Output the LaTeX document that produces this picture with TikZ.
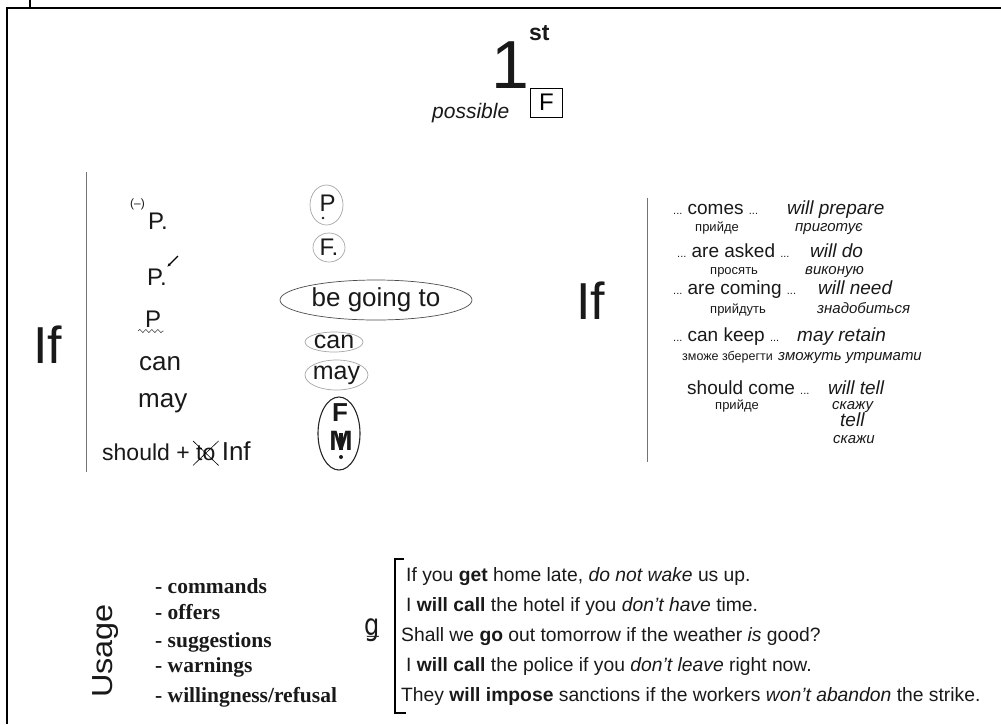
\documentclass[tikz,border=0pt]{standalone}
\usepackage{fontspec}
\usepackage{graphicx}
\setmainfont{Liberation Sans}
\newfontfamily\listfont{Liberation Serif}
\newfontfamily\djv{DejaVu Sans}
\usetikzlibrary{shapes.geometric,decorations.pathmorphing,arrows.meta}
\newcommand{\fsz}[1]{\fontsize{#1}{#1}\selectfont}
\newcommand{\smdots}{{\fontsize{11}{11}\selectfont...}}
\begin{document}
\begin{tikzpicture}[x=1pt,y=-1pt,
  t/.style={inner sep=0pt, anchor=base west, text=black!90},
  c/.style={inner sep=0pt, text=black!90},
  oval/.style={ellipse, draw=black!35, line width=0.7pt, inner sep=0pt},
  en/.style={t, font=\fsz{19}},
  ei/.style={t, font=\itshape\fsz{19}},
  ua/.style={t, font=\fsz{13}},
  ui/.style={t, font=\itshape\fsz{15}},
  lst/.style={t, font=\listfont\bfseries\fsz{21.5}},
  sen/.style={t, font=\fsz{19.3}},
  divider/.style={draw=black!55, line width=1pt},
]
\useasboundingbox (0,0) rectangle (1001,724);
% frame
\draw[line width=2pt] (7,724) -- (7,7.5) -- (1001,7.5);
\draw[line width=2.5pt] (30,0) -- (30,7);

% title
\node[t, font=\fsz{68}] (one) at (491,88) {1};
\node[t, font=\bfseries\fsz{23}] (st) at (529,40) {st};
\node[t, font=\itshape\fsz{21}] (possible) at (432,118) {possible};
\node[draw, line width=0.8pt, font=\fsz{24}, minimum width=32, minimum height=29, inner sep=0pt] (fbox) at (546.5,102.5) {F};

% left block
\draw[divider] (86,172) -- (86,472);
\node[t, font=\fsz{52}] (ifL) at (33,363) {If};
\node[t, font=\fsz{12}] (neg) at (130,207) {(–)};
\node[t, font=\fsz{24}] (p1) at (148,229) {P.};
\node[t, font=\fsz{24}] (p2) at (147,285) {P.};
\draw[line width=1.1pt, -{Latex[length=4pt,width=3pt]}] (178,256) -- (167,267);
\node[t, font=\fsz{24}] (p3) at (145,327) {P};
\draw[decorate, decoration={snake, segment length=6pt, amplitude=1.6pt}] (138,331) -- (164,331);
\node[t, font=\fsz{26}] (canL) at (139,370) {can};
\node[t, font=\fsz{26}] (mayL) at (138,407) {may};
\node[t, font=\fsz{23}] (should) at (102,460) {should +};
\node[t, font=\fsz{23}] (to) at ([xshift=6pt]should.base east) {to};
\draw[line width=0.6pt] ([xshift=-3pt,yshift=4pt]to.north west) -- ([xshift=3pt,yshift=-5pt]to.south east);
\draw[line width=0.6pt] ([xshift=-3pt,yshift=-5pt]to.south west) -- ([xshift=3pt,yshift=4pt]to.north east);
\node[t, font=\fsz{26}] (inf) at ([xshift=6pt]to.base east) {Inf};

% middle ovals
\node[oval, minimum width=33, minimum height=40] (ovP) at (326.5,205) {};
\node[c, font=\fsz{24}, anchor=base] (ovPt) at (327.5,211) {P};
\fill[black!90] (323,218) circle (1.3pt);
\node[oval, minimum width=32, minimum height=29] (ovF) at (329,247.5) {};
\node[c, font=\fsz{24}] (ovFt) at (ovF) {F.};
\node[oval, draw=black!70, minimum width=192, minimum height=40] (ovB) at (376,300) {};
\node[c, font=\fsz{26}] (ovBt) at (ovB) {be going to};
\node[oval, minimum width=58, minimum height=20] (ovC) at (334,342) {};
\node[c, font=\fsz{25}] (ovCt) at (ovC) {can};
\node[oval, minimum width=63, minimum height=30] (ovM) at (336.5,375) {};
\node[c, font=\fsz{25}] (ovMt) at (ovM) {may};
\node[ellipse, draw=black!85, line width=1.1pt, minimum width=42, minimum height=73, inner sep=0pt] (ovFM) at (339,433.5) {};
\node[c, font=\bfseries\fsz{26}] (fmF) at (340,413) {F};
\node[c, font=\bfseries\fsz{28}] (fmM) at (341,441) {M};
\fill[black!90] (339.3,433) rectangle (342.7,450);
\fill[black!90] (341,457) circle (2pt);

% right block
\node[t, font=\fsz{52}] (ifR) at (576,319) {If};
\draw[divider] (647,198) -- (647,462);
\node[en] (r1a) at (673,214) {\smdots\ comes \smdots};
\node[ei] (r1b) at (787,214) {will prepare};
\node[ua] (r1c) at (695,231) {прийде};
\node[ui] (r1d) at (795,231) {приготує};
\node[en] (r2a) at (677,257) {\smdots\ are asked \smdots};
\node[ei] (r2b) at (810,257) {will do};
\node[ua] (r2c) at (710,274) {просять};
\node[ui] (r2d) at (805,274) {виконую};
\node[en] (r3a) at (673,294) {\smdots\ are coming \smdots};
\node[ei] (r3b) at (818,294) {will need};
\node[ua] (r3c) at (710,313) {прийдуть};
\node[ui] (r3d) at (817,313) {знадобиться};
\node[en] (r4a) at (673,341) {\smdots\ can keep \smdots};
\node[ei] (r4b) at (797,341) {may retain};
\node[t, font=\fsz{12.5}] (r4c) at (682,360) {зможе зберегти};
\node[ui] (r4d) at (778,360) {зможуть утримати};
\node[en] (r5a) at (687,394) {should come \smdots};
\node[ei] (r5b) at (828,394) {will tell};
\node[ua] (r5c) at (715,409) {прийде};
\node[ui] (r5d) at (832,409) {скажу};
\node[ei] (r6b) at (840,426) {tell};
\node[ui] (r6d) at (833,443) {скажи};

% usage
\node[c, font=\fsz{29}, rotate=90] (usage) at (106,651) {\scalebox{1.12}[1]{Usage}};
\node[lst] (u1) at (155,593) {- commands};
\node[lst] (u2) at (155,619) {- offers};
\node[lst] (u3) at (155,647) {- suggestions};
\node[lst] (u4) at (155,672) {- warnings};
\node[lst] (u5) at (155,702) {- willingness/refusal};
\node[c, font=\djv\fsz{24}] (gsym) at (372,630) {\scalebox{1}[1.25]{ǥ}};

% bracket
\coordinate (brA) at (404,559);
\coordinate (brB) at (395,559);
\coordinate (brC) at (395,713);
\coordinate (brD) at (406,713);
\draw[line width=1.2pt] (brA) -- (brB) -- (brC) -- (brD);
\node[sen] (s1) at (406,581) {If you \textbf{get} home late, \textit{do not wake} us up.};
\node[sen] (s2) at (406,611) {I \textbf{will call} the hotel if you \textit{don’t have} time.};
\node[sen] (s3) at (401,641) {Shall we \textbf{go} out tomorrow if the weather \textit{is} good?};
\node[sen] (s4) at (406,671) {I \textbf{will call} the police if you \textit{don’t leave} right now.};
\node[sen] (s5) at (401,701) {They \textbf{will impose} sanctions if the workers \textit{won’t abandon} the strike.};
\end{tikzpicture}
\end{document}
